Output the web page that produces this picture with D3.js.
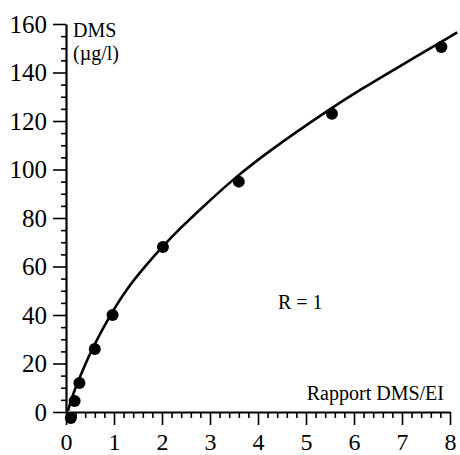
<!DOCTYPE html>
<html>
<head>
<meta charset="utf-8">
<script src="https://cdn.jsdelivr.net/npm/d3@7/dist/d3.min.js"></script>
<style>
  body { margin: 0; background: #fff; }
  text { font-family: "Liberation Serif", "DejaVu Serif", serif; fill: #000; }
</style>
</head>
<body>
<div id="chart"></div>
<script>
// measured points (Rapport DMS/EI, DMS µg/l)
const pointX = [0.1, 0.18, 0.28, 0.6, 0.97, 2.02, 3.6, 5.54, 7.82];
const pointY = [-2.5, 4.5, 12, 26, 40, 68, 95, 123, 150.5];

// fitted curve
const curveX = [0.04, 0.15, 0.35, 0.56, 0.92, 1.27, 1.67, 2.0, 2.38, 2.83, 3.48, 4.25, 5.5, 6.12, 6.9, 8.15];
const curveY = [0.5, 7.8, 17.3, 26.8, 40, 51, 60.6, 68, 75.8, 84.2, 96, 108, 125, 132.8, 142, 156.5];

const xTicks = [0, 1, 2, 3, 4, 5, 6, 7, 8];
const yTicks = [0, 20, 40, 60, 80, 100, 120, 140, 160];

const width = 460;
const height = 455;

const svg = d3.select('#chart').append('svg').attr('width', width).attr('height', height);

const x = d3.scaleLinear().domain([0, 8]).range([66, 450]);
const y = d3.scaleLinear().domain([0, 160]).range([412, 24]);

// minor ticks first
const xMinor = d3.range(0, 8.001, 0.2).filter((v) => Math.abs(v - Math.round(v)) > 0.01);
const yMinor = d3.range(0, 160.1, 5).filter((v) => v % 20 !== 0);

svg.append('g')
  .attr('transform', `translate(0,${y(0)})`)
  .call(d3.axisBottom(x).tickValues(xMinor).tickSize(6).tickSizeOuter(0).tickFormat(''))
  .call((g) => g.select('.domain').remove());

svg.append('g')
  .attr('transform', `translate(${x(0)},0)`)
  .call(d3.axisLeft(y).tickValues(yMinor).tickSize(5).tickSizeOuter(0).tickFormat(''))
  .call((g) => g.select('.domain').remove());

// major ticks + labels
const xAxis = svg.append('g')
  .attr('transform', `translate(0,${y(0)})`)
  .call(d3.axisBottom(x).tickValues(xTicks).tickSize(13).tickSizeOuter(0));

const yAxis = svg.append('g')
  .attr('transform', `translate(${x(0)},0)`)
  .call(d3.axisLeft(y).tickValues(yTicks).tickSize(13).tickSizeOuter(0).tickPadding(6));

svg.selectAll('.tick line').attr('stroke', '#000').attr('stroke-width', 1.6);
svg.selectAll('.domain').attr('stroke', '#000').attr('stroke-width', 2.2);
xAxis.selectAll('text').attr('font-size', 24).attr('font-family', 'Liberation Serif')
  .attr('y', 38).attr('dy', 0);
yAxis.selectAll('text').attr('font-size', 25).attr('font-family', 'Liberation Serif');

// fitted curve
const line = d3.line()
  .x((d) => x(d[0]))
  .y((d) => y(d[1]))
  .curve(d3.curveBasis);

svg.append('path')
  .datum(curveX.map((v, i) => [v, curveY[i]]))
  .attr('d', line)
  .attr('fill', 'none')
  .attr('stroke', '#000')
  .attr('stroke-width', 2.6);

// data points
svg.selectAll('.pt')
  .data(pointX.map((v, i) => [v, pointY[i]]))
  .enter()
  .append('circle')
  .attr('class', 'pt')
  .attr('cx', (d) => x(d[0]))
  .attr('cy', (d) => y(d[1]))
  .attr('r', 6)
  .attr('fill', '#000');

// labels
svg.append('text').attr('x', 73).attr('y', 37).attr('font-size', 20).text('DMS');
svg.append('text').attr('x', 73).attr('y', 60).attr('font-size', 20).text('(µg/l)');
svg.append('text').attr('x', 444).attr('y', 400).attr('font-size', 20).attr('text-anchor', 'end').text('Rapport DMS/EI');
svg.append('text').attr('x', 278).attr('y', 309).attr('font-size', 20).text('R = 1');
</script>
</body>
</html>
